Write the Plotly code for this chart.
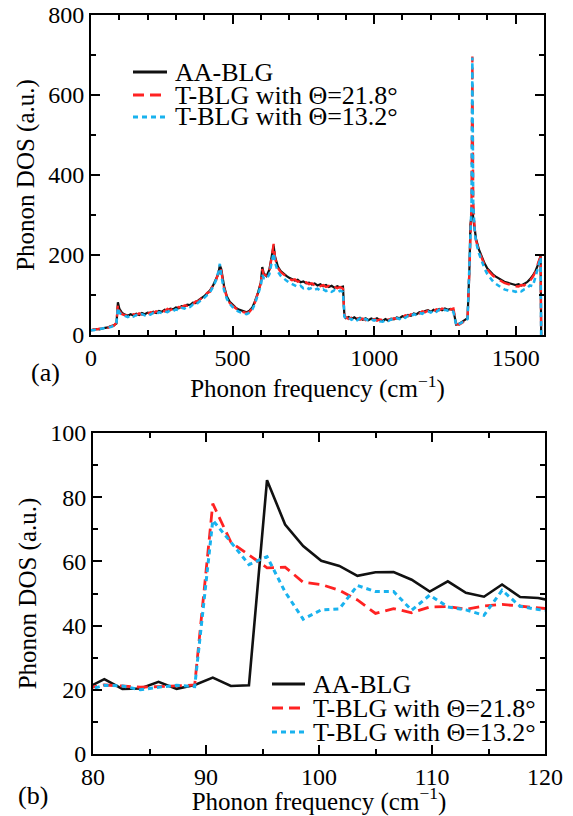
import plotly.graph_objects as go

# ---------------- Panel (a) data ----------------
FREQ_A = [
    0, 10, 20, 30, 40, 50, 60, 70, 80, 90,
    95,
    100, 110, 120, 130, 140, 150, 160, 170, 180, 190,
    200, 210, 220, 230, 240, 250, 260, 270, 280, 290,
    300, 310, 320, 330, 340, 350, 360, 370, 380, 390,
    400, 410, 420, 430, 440, 450,
    455,
    460, 470, 480, 490, 500, 510, 520, 530, 540, 550, 560, 570, 580, 590, 600,
    605,
    610, 620, 630, 640,
    645,
    650, 660, 670, 680, 690, 700, 710, 720, 730, 740, 750, 760, 770, 780, 790,
    800, 810, 820, 830, 840, 850, 860, 870, 880, 890,
    895,
    900, 910, 920, 930, 940, 950, 960, 970, 980, 990,
    1000, 1010, 1020, 1030, 1040, 1050, 1060, 1070, 1080, 1090,
    1100, 1110, 1120, 1130, 1140, 1150, 1160, 1170, 1180, 1190,
    1200, 1210, 1220, 1230, 1240, 1250, 1260, 1270, 1280, 1290,
    1300, 1310, 1320, 1330,
    1337, 1340, 1344, 1347, 1350, 1355,
    1360, 1370, 1380, 1390, 1400, 1410, 1420, 1430, 1440, 1450, 1460, 1470,
    1480, 1490, 1500, 1510, 1520, 1530, 1540, 1550, 1560, 1570, 1580,
    1588, 1590,
]

AA_A = [
    12, 13, 15, 14, 17, 18, 19, 21, 24, 29,
    82,
    66, 55, 51, 48, 52, 49, 53, 50, 55, 52,
    56, 54, 58, 55, 60, 58, 63, 61, 66, 64,
    69, 67, 72, 71, 76, 75, 81, 80, 87, 91,
    97, 104, 111, 122, 136, 153,
    174,
    165, 122, 96, 83, 75, 69, 64, 61, 58, 57, 61, 69, 86, 106, 132,
    170,
    154, 147, 163, 198,
    224,
    196, 171, 160, 153, 148, 143, 140, 136, 138, 132, 134, 129, 131, 126, 129,
    124, 127, 122, 125, 120, 123, 118, 122, 119, 121,
    48,
    42, 45, 40, 44, 39, 43, 38, 42, 37, 41,
    38, 42, 37, 35, 40, 36, 41, 39, 44, 42,
    47, 45, 50, 48, 54, 52, 57, 55, 60, 62,
    58, 63, 60, 65, 62, 66, 63, 65, 62, 26,
    28, 32, 36, 42,
    175, 275, 300, 322, 292, 262,
    240, 214, 195, 179, 166, 158, 151, 146, 141, 137, 133, 131,
    128, 127, 125, 127, 124, 128, 132, 139, 148, 160, 178,
    198, 0,
]

T21_A = [
    11, 14, 14, 16, 16, 19, 18, 22, 23, 31,
    76,
    60, 52, 49, 50, 48, 52, 50, 54, 51, 56,
    53, 57, 55, 59, 57, 62, 59, 65, 62, 67,
    65, 70, 69, 74, 73, 78, 77, 84, 85, 92,
    95, 105, 108, 124, 133, 156,
    170,
    160, 118, 94, 80, 73, 67, 62, 59, 56, 55, 58, 67, 83, 104, 130,
    165,
    150, 149, 160, 202,
    228,
    192, 168, 157, 151, 145, 141, 137, 139, 133, 135, 130, 132, 127, 129, 124,
    127, 122, 125, 120, 123, 118, 121, 117, 120, 116,
    50,
    44, 40, 43, 39, 42, 38, 41, 37, 40, 36,
    40, 36, 39, 37, 36, 39, 38, 42, 41, 45,
    44, 49, 47, 52, 50, 55, 54, 59, 57, 61,
    61, 59, 64, 62, 66, 64, 67, 64, 66, 28,
    26, 30, 34, 40,
    170, 268, 330, 696, 335, 268,
    236, 210, 192, 175, 163, 155, 148, 143, 138, 134, 130, 128,
    125, 123, 122, 121, 125, 124, 130, 135, 145, 158, 182,
    196, 0,
]

T13_A = [
    12, 12, 15, 15, 16, 18, 19, 20, 23, 30,
    68,
    56, 50, 47, 45, 49, 46, 50, 48, 52, 49,
    53, 51, 55, 52, 57, 55, 59, 57, 62, 60,
    64, 62, 68, 66, 71, 70, 76, 75, 82, 87,
    93, 100, 107, 119, 134, 158,
    178,
    150, 112, 90, 78, 70, 64, 59, 56, 53, 52, 56, 64, 80, 100, 124,
    150,
    142, 140, 152, 188,
    205,
    182, 158, 148, 141, 136, 131, 127, 124, 120, 123, 117, 120, 115, 118, 113,
    116, 111, 114, 110, 113, 108, 112, 107, 111, 108,
    46,
    40, 43, 38, 42, 37, 41, 36, 40, 35, 39,
    36, 39, 34, 33, 37, 35, 39, 37, 42, 40,
    45, 43, 48, 46, 52, 50, 55, 53, 58, 59,
    56, 61, 58, 63, 60, 63, 61, 62, 58, 24,
    27, 31, 35, 40,
    168, 265, 325, 694, 330, 262,
    232, 205, 184, 166, 152, 142, 134, 128, 122, 118, 114, 112,
    110, 110, 108, 112, 109, 114, 117, 124, 122, 145, 172,
    194, 0,
]

# ---------------- Panel (b) data ----------------
FREQ_B = [79.4, 81.0, 82.6, 84.2, 85.8, 87.4, 89.0, 90.6, 92.2, 93.8,
          95.4, 97.0, 98.6, 100.2, 101.8, 103.4, 105.0, 106.6, 108.2, 109.8,
          111.4, 113.0, 114.6, 116.2, 117.8, 119.4, 121.0]
AA_B = [20.5, 23.3, 20.3, 20.4, 22.5, 20.3, 21.5, 23.8, 21.2, 21.4,
        85.3, 71.5, 64.8, 60.2, 58.6, 55.5, 56.6, 56.7, 54.3, 50.6,
        53.8, 50.2, 49.0, 52.8, 48.9, 48.6, 47.5]
T21_B = [20.5, 21.5, 21.2, 20.8, 21.0, 21.3, 21.5, 78.0, 66.0, 62.0,
         58.0, 58.2, 53.5, 52.8, 51.0, 48.0, 43.8, 45.3, 44.0, 45.8,
         45.9, 45.1, 46.1, 46.6, 46.0, 45.6, 45.0]
T13_B = [19.8, 21.4, 21.2, 20.0, 20.8, 21.4, 21.0, 72.8, 66.0, 59.0,
         61.5, 50.5, 42.0, 44.9, 45.2, 52.5, 50.6, 50.6, 44.8, 49.5,
         45.8, 44.9, 43.2, 51.0, 46.0, 45.0, 44.5]

SERIES_NAMES = ["AA-BLG", "T-BLG with Θ=21.8°", "T-BLG with Θ=13.2°"]
X_TITLE = "Phonon frequency (cm<sup>−1</sup>)"
Y_TITLE = "Phonon DOS (a.u.)"

BLACK = "#111111"
RED = "#ff2222"
BLUE = "#19b2ee"
FONT = "'Liberation Serif', 'Times New Roman', Times, serif"

W, H = 573, 816

styles = [
    dict(color=BLACK, width=2.6, dash="solid"),
    dict(color=RED, width=2.8, dash="11px,6px"),
    dict(color=BLUE, width=3.0, dash="5px,4px"),
]

fig = go.Figure()
for ys, st in zip([AA_A, T21_A, T13_A], styles):
    fig.add_trace(go.Scatter(x=FREQ_A, y=ys, mode="lines",
                             line=dict(color=st["color"], width=st["width"] * 0.85, dash=st["dash"]),
                             xaxis="x", yaxis="y", showlegend=False))
for ys, st in zip([AA_B, T21_B, T13_B], styles):
    fig.add_trace(go.Scatter(x=FREQ_B, y=ys, mode="lines",
                             line=dict(color=st["color"], width=st["width"], dash=st["dash"]),
                             xaxis="x2", yaxis="y2", showlegend=False))


def minor(dt):
    return dict(dtick=dt, ticks="inside", ticklen=5, tickwidth=1.5, tickcolor="black", showgrid=False)


def axis(**kw):
    d = dict(showline=True, linecolor="black", linewidth=2, mirror="allticks",
             ticks="inside", ticklen=9, tickwidth=1.5, tickcolor="black",
             showgrid=False, zeroline=False, automargin=False,
             tickfont=dict(family=FONT, size=24, color="black"))
    d.update(kw)
    return d


def px_x(p):
    return p / W


def px_y(p):
    return 1 - p / H


title_font = dict(family=FONT, size=25, color="black")

fig.update_layout(
    width=W, height=H, margin=dict(l=0, r=0, t=0, b=0, autoexpand=False),
    paper_bgcolor="white", plot_bgcolor="white",
    font=dict(family=FONT, color="black"),
    xaxis=axis(domain=[px_x(91), px_x(544)], range=[0, 1600], dtick=500, tick0=0, minor=minor(100),
               anchor="y", title=dict(text=X_TITLE, font=title_font, standoff=2)),
    yaxis=axis(domain=[px_y(335), px_y(15)], range=[0, 800], dtick=200, tick0=0, minor=minor(100),
               anchor="x", title=dict(text=Y_TITLE, font=title_font, standoff=6)),
    xaxis2=axis(domain=[px_x(93), px_x(545)], range=[80, 120], dtick=10, tick0=80, minor=minor(5),
                anchor="y2", title=dict(text=X_TITLE, font=title_font, standoff=2)),
    yaxis2=axis(domain=[px_y(754), px_y(433)], range=[0, 100], dtick=20, tick0=0, minor=minor(10),
                anchor="x2", title=dict(text=Y_TITLE, font=title_font, standoff=6)),
)

# Panel labels
fig.add_annotation(text="(a)", x=px_x(45), y=px_y(373), xref="paper", yref="paper",
                   xanchor="center", yanchor="middle",
                   showarrow=False, font=dict(family=FONT, size=26, color="black"))
fig.add_annotation(text="(b)", x=px_x(33), y=px_y(795), xref="paper", yref="paper",
                   xanchor="center", yanchor="middle",
                   showarrow=False, font=dict(family=FONT, size=26, color="black"))

# Compact legends (line samples + labels)
legend_font = dict(family=FONT, size=26, color="black")
for (x0, x1, xt, ys) in [(133, 167, 173, [72, 95, 117]), (272, 305, 311, [684, 708, 732])]:
    for name, st, yy in zip(SERIES_NAMES, styles, ys):
        fig.add_shape(type="line", xref="paper", yref="paper",
                      x0=px_x(x0), x1=px_x(x1), y0=px_y(yy), y1=px_y(yy),
                      line=dict(color=st["color"], width=3, dash=st["dash"]))
        fig.add_annotation(text=name, x=px_x(xt), y=px_y(yy), xref="paper", yref="paper",
                           xanchor="left", yanchor="middle", showarrow=False, font=legend_font)

fig.write_html("out.html", config={"displayModeBar": False},
               post_script="document.body.style.margin='0px';")
